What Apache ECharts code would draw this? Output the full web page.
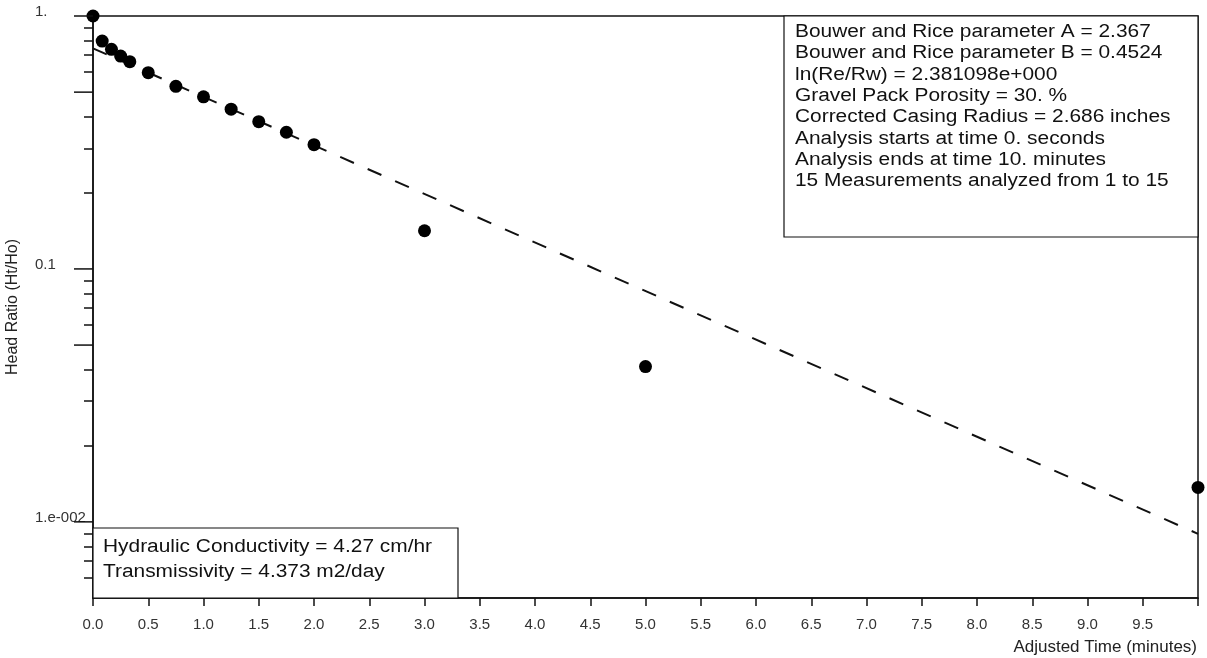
<!DOCTYPE html>
<html>
<head>
<meta charset="utf-8">
<script src="https://cdn.jsdelivr.net/npm/echarts@6/dist/echarts.min.js"></script>
<style>
  html, body { margin: 0; padding: 0; background: #ffffff; }
  #chart { width: 1207px; height: 658px; }
</style>
</head>
<body>
<div id="chart"></div>
<script>
// Slug test recovery: head ratio Ht/Ho against adjusted time (minutes)
const timeMin   = [0, 0.083, 0.167, 0.25, 0.333, 0.5, 0.75, 1.0, 1.25, 1.5, 1.75, 2.0, 3.0, 5.0, 10.0];
const headRatio = [1.0, 0.796, 0.738, 0.694, 0.660, 0.597, 0.527, 0.479, 0.428, 0.382, 0.347, 0.310, 0.1416, 0.0411, 0.01368];

// Bouwer and Rice straight-line fit (end points)
const fitTime  = [0, 10];
const fitRatio = [0.745, 0.00897];

// Log-axis ticks and labels
const yLabelValues = [1, 0.1, 0.01];
const yLabelTexts  = ['1.', '0.1', '1.e-002'];
const yMajorTicks  = [1, 0.5, 0.1, 0.05, 0.01];
const yMinorTicks  = [0.9, 0.8, 0.7, 0.6, 0.4, 0.3, 0.2,
                      0.09, 0.08, 0.07, 0.06, 0.04, 0.03, 0.02,
                      0.009, 0.008, 0.007, 0.006];

// Analysis summary text
const paramLines = [
  'Bouwer and Rice parameter A = 2.367',
  'Bouwer and Rice parameter B = 0.4524',
  'ln(Re/Rw) = 2.381098e+000',
  'Gravel Pack Porosity = 30. %',
  'Corrected Casing Radius = 2.686 inches',
  'Analysis starts at time 0. seconds',
  'Analysis ends at time 10. minutes',
  '15 Measurements analyzed from 1 to 15'
];
const resultLines = [
  'Hydraulic Conductivity = 4.27 cm/hr',
  'Transmissivity = 4.373 m2/day'
];

const FONT = '"Liberation Sans", Arial, sans-serif';
const INK = '#111111';
const MAJOR_TICK_LEN = 19;

function yLabel(v) {
  for (let i = 0; i < yLabelValues.length; i++) {
    if (Math.abs(Math.log10(v) - Math.log10(yLabelValues[i])) < 1e-6) return yLabelTexts[i];
  }
  return '';
}

const chart = echarts.init(document.getElementById('chart'), null, { renderer: 'canvas' });

const option = {
  backgroundColor: '#ffffff',
  animation: false,
  grid: {
    left: 93, right: 9, top: 16, bottom: 60,
    outerBoundsMode: 'none',
    containLabel: false,
    show: true, borderColor: INK, borderWidth: 1.5, backgroundColor: 'transparent'
  },
  xAxis: {
    type: 'value',
    min: 0, max: 10, interval: 0.5,
    name: 'Adjusted Time (minutes)',
    nameLocation: 'end',
    nameGap: -1,
    nameTextStyle: {
      fontFamily: FONT, fontSize: 17, color: '#222',
      align: 'right', verticalAlign: 'top', padding: [41, 0, 0, 0]
    },
    axisLine: { show: true, onZero: false, lineStyle: { color: INK, width: 1.5 } },
    axisTick: { show: true, inside: false, length: 8, lineStyle: { color: INK, width: 1.5 } },
    axisLabel: {
      margin: 19, fontFamily: FONT, fontSize: 15, color: '#333',
      formatter: v => (v >= 10 ? '' : v.toFixed(1))
    },
    splitLine: { show: false }
  },
  yAxis: {
    type: 'log', logBase: 10,
    min: 0.005, max: 1,
    name: 'Head Ratio (Ht/Ho)',
    nameLocation: 'middle',
    nameRotate: 90,
    nameGap: 72,
    nameTextStyle: { fontFamily: FONT, fontSize: 16, color: '#222' },
    axisLine: { show: true, lineStyle: { color: INK, width: 1.5 } },
    axisTick: {
      show: true, inside: false, length: 9,
      customValues: yMinorTicks,
      lineStyle: { color: INK, width: 1.5 }
    },
    axisLabel: {
      show: true,
      customValues: yLabelValues,
      formatter: yLabel,
      align: 'left',
      margin: 58,
      verticalAlign: 'bottom',
      lineHeight: 8,
      fontFamily: FONT, fontSize: 15, color: '#333'
    },
    splitLine: { show: false },
    minorTick: { show: false }
  },
  series: [
    {
      name: 'Fit',
      type: 'line',
      data: fitTime.map((t, i) => [t, fitRatio[i]]),
      showSymbol: false,
      symbol: 'none',
      lineStyle: { color: INK, width: 2, type: [15, 15] },
      z: 2,
      silent: true
    },
    {
      name: 'Measured',
      type: 'scatter',
      data: timeMin.map((t, i) => [t, headRatio[i]]),
      symbol: 'circle',
      symbolSize: 13,
      itemStyle: { color: '#000000', opacity: 1 },
      z: 3,
      clip: false
    }
  ],
  graphic: [
    {
      id: 'paramBox',
      type: 'rect',
      shape: { x: 784, y: 16, width: 414, height: 221 },
      style: { fill: '#ffffff', stroke: INK, lineWidth: 1.2 },
      z: 10
    },
    {
      id: 'paramText',
      type: 'text',
      x: 795, y: 21.5,
      scaleX: 1.16,
      style: {
        text: paramLines.join('\n'),
        font: '18px ' + FONT,
        fill: INK,
        lineHeight: 21.3,
        textAlign: 'left',
        textVerticalAlign: 'top'
      },
      z: 11
    },
    {
      id: 'resultBox',
      type: 'rect',
      shape: { x: 93, y: 528, width: 365, height: 70 },
      style: { fill: '#ffffff', stroke: INK, lineWidth: 1.2 },
      z: 10
    },
    {
      id: 'resultText',
      type: 'text',
      x: 103, y: 534,
      scaleX: 1.16,
      style: {
        text: resultLines.join('\n'),
        font: '18px ' + FONT,
        fill: INK,
        lineHeight: 25.6,
        textAlign: 'left',
        textVerticalAlign: 'top'
      },
      z: 11
    }
  ]
};

chart.setOption(option);

// Long ticks at the decades and half-decades, placed through the log axis scale
const axisX = chart.convertToPixel({ xAxisIndex: 0 }, 0);
const majorTickLines = yMajorTicks.map((v, i) => {
  const y = chart.convertToPixel({ yAxisIndex: 0 }, v);
  return {
    id: 'majorTick' + i,
    type: 'line',
    shape: { x1: axisX - MAJOR_TICK_LEN, y1: y, x2: axisX, y2: y },
    style: { stroke: INK, lineWidth: 1.5 },
    z: 5
  };
});
chart.setOption({ graphic: majorTickLines });
</script>
</body>
</html>
